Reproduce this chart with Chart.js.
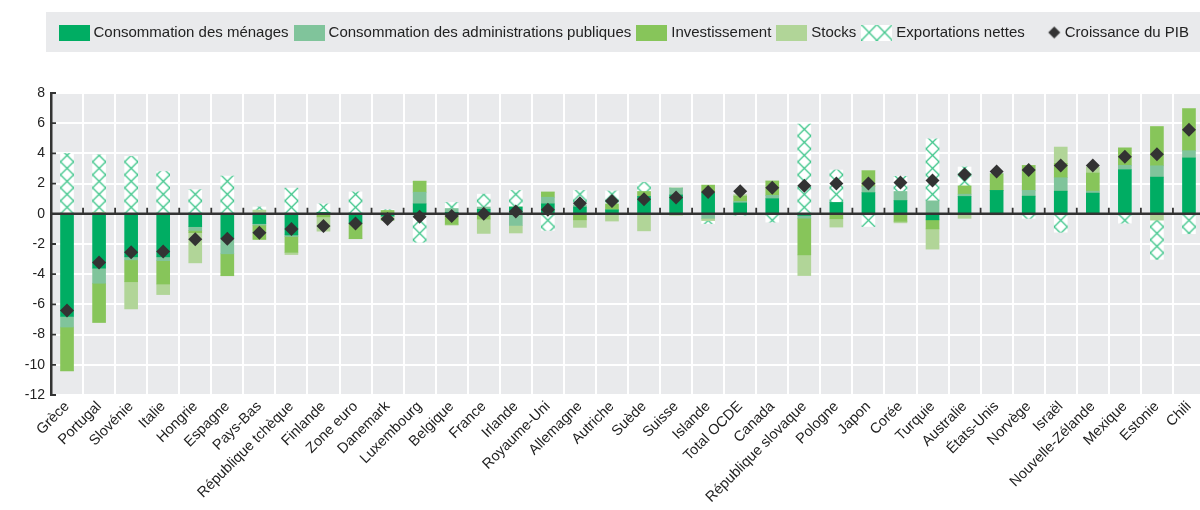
<!DOCTYPE html>
<html lang="fr">
<head>
<meta charset="utf-8">
<title>Contributions à la croissance du PIB</title>
<script src="https://cdn.jsdelivr.net/npm/chart.js@4.4.1/dist/chart.umd.min.js"></script>
<style>
    html, body { margin: 0; padding: 0; background: #fff; overflow: hidden; }
    #wrap { width: 1212px; height: 510px; }
</style>
</head>
<body>
<div id="wrap"><canvas id="myChart" width="1212" height="510"></canvas></div>
<script>
const pays = ['Grèce', 'Portugal', 'Slovénie', 'Italie', 'Hongrie', 'Espagne', 'Pays-Bas', 'République tchèque',
    'Finlande', 'Zone euro', 'Danemark', 'Luxembourg', 'Belgique', 'France', 'Irlande', 'Royaume-Uni',
    'Allemagne', 'Autriche', 'Suède', 'Suisse', 'Islande', 'Total OCDE', 'Canada', 'République slovaque',
    'Pologne', 'Japon', 'Corée', 'Turquie', 'Australie', 'États-Unis', 'Norvège', 'Israël',
    'Nouvelle-Zélande', 'Mexique', 'Estonie', 'Chili'];

const menages = [-6.8, -3.6, -2.85, -2.85, -0.85, -1.6, -0.65, -1.4, 0.1, -0.6, -0.15, 0.66, 0.1, 0.3, 0.45, 0.66,
    0.45, 0.26, 1.15, 1.25, 1.4, 0.72, 1.0, -0.1, 0.75, 1.4, 0.88, -0.4, 1.15, 1.55, 1.17, 1.5, 1.37, 2.92, 2.43, 3.7];
const adminPub = [-0.7, -1.0, -0.2, -0.25, -0.25, -1.05, -0.1, -0.1, 0, -0.05, 0, 0.77, 0.25, 0.15, -0.77, 0.44,
    0.15, 0, 0, 0.45, -0.3, 0.1, 0.22, -0.19, 0, 0.4, 0.6, 0.86, 0.15, 0, 0.38, 0.89, 0.13, 0.29, 0.75, 0.48];
const investissement = [-2.9, -2.6, -1.45, -1.55, -0.15, -1.45, -0.95, -1.05, -0.2, -1.0, 0.22, 0.73, -0.7, -0.35, 0, 0.34,
    -0.4, 0.4, 0.33, 0, 0.5, 0.35, 0.95, -2.43, -0.33, 1.05, -0.5, -0.6, 0.55, 1.1, 1.65, 0.95, 1.2, 1.15, 2.6, 2.78];
const stocks = [0, 0.1, -1.8, -0.7, -2.0, 0, 0.25, -0.15, -0.95, 0, -0.3, 0, -0.05, -0.95, -0.5, 0,
    -0.5, -0.48, -1.13, -0.1, -0.15, 0.1, 0, -1.37, -0.55, 0, -0.1, -1.34, -0.3, -0.05, 0, 1.08, 0.4, 0, -0.42, 0];
const exportations = [4.0, 3.8, 3.8, 2.8, 1.6, 2.5, 0.2, 1.7, 0.55, 1.45, 0.05, -1.88, 0.4, 0.85, 1.1, -1.1,
    0.95, 0.85, 0.6, 0, -0.2, -0.1, -0.55, 5.95, 2.15, -0.84, 1.0, 4.1, 1.25, 0, -0.3, -1.22, 0, -0.62, -2.6, -1.32];
const croissancePib = [-6.4, -3.23, -2.55, -2.5, -1.68, -1.65, -1.25, -1.0, -0.8, -0.65, -0.35, -0.2, -0.15, 0.0, 0.15, 0.27,
    0.7, 0.85, 0.97, 1.08, 1.44, 1.5, 1.72, 1.86, 2.0, 2.0, 2.08, 2.2, 2.6, 2.8, 2.9, 3.2, 3.2, 3.78, 3.95, 5.57];

const yTicks = [-12, -10, -8, -6, -4, -2, 0, 2, 4, 6, 8];

const fontFamily = "'Liberation Sans', Arial, sans-serif";
const hatchGreen = '#3fc68b';

// hatch tile for net exports
const tile = document.createElement('canvas');
tile.width = 13; tile.height = 13;
const tc = tile.getContext('2d');
tc.fillStyle = '#fff';
tc.fillRect(0, 0, 13, 13);
tc.strokeStyle = hatchGreen;
tc.lineWidth = 1.3;
tc.beginPath();
tc.moveTo(0, 0); tc.lineTo(13, 13);
tc.moveTo(13, 0); tc.lineTo(0, 13);
tc.stroke();

function hatch(c) {
    const chart = c.chart;
    const pat = chart.ctx.createPattern(tile, 'repeat');
    if (c.type === 'data' && chart.scales.x) {
        const left = chart.scales.x.getPixelForValue(c.dataIndex) - 6.5;
        const top = chart.scales.y.getPixelForValue(0);
        pat.setTransform(new DOMMatrix([1, 0, 0, 1, left, top]));
    }
    return pat;
}

// legend swatches (31 x 16)
const SW = 31, SH = 16;
function swatch(draw) {
    const cv = document.createElement('canvas');
    cv.width = SW; cv.height = SH;
    draw(cv.getContext('2d'));
    return cv;
}
function solid(color) {
    return swatch(function (g) { g.fillStyle = color; g.fillRect(0, 0, SW, SH); });
}
const swatches = [
    solid('#00ad63'),
    solid('#80c49b'),
    solid('#87c55a'),
    solid('#b1d598'),
    swatch(function (g) {
        g.fillStyle = '#fff';
        g.fillRect(0, 0, SW, SH);
        g.strokeStyle = hatchGreen;
        g.lineWidth = 1.3;
        g.beginPath();
        for (let i = 0; i < 2; i++) {
            const x0 = i * SW / 2;
            g.moveTo(x0, 0); g.lineTo(x0 + SW / 2, SH);
            g.moveTo(x0 + SW / 2, 0); g.lineTo(x0, SH);
        }
        g.stroke();
    }),
    swatch(function (g) {
        g.fillStyle = '#333';
        g.beginPath();
        g.moveTo(24.5, 2); g.lineTo(30.5, 8); g.lineTo(24.5, 14); g.lineTo(18.5, 8);
        g.closePath();
        g.fill();
    })
];

const decor = {
    id: 'decor',
    beforeInit(chart) {
        const fit = chart.legend.fit;
        chart.legend.fit = function () {
            fit.call(this);
            this.height = 81;
        };
    },
    afterLayout(chart) {
        chart.legend.left = 53.5;
        chart.legend.top = 16.5;
    },
    beforeDraw(chart) {
        const ctx = chart.ctx;
        const a = chart.chartArea;
        ctx.save();
        ctx.fillStyle = '#e9eaec';
        ctx.fillRect(46, 12, chart.width - 46, 40);
        ctx.fillRect(a.left, a.top, a.right - a.left, a.bottom - a.top);
        ctx.restore();
    },
    beforeDatasetDraw(chart, args) {
        if (args.meta.type !== 'line') return;
        const ctx = chart.ctx;
        const a = chart.chartArea;
        const y = chart.scales.y;
        const y0 = y.getPixelForValue(0);
        const n = pays.length;
        ctx.save();
        ctx.strokeStyle = '#333';
        ctx.lineWidth = 2.5;
        ctx.beginPath();
        ctx.moveTo(a.left, y0);
        ctx.lineTo(a.right, y0);
        ctx.stroke();
        ctx.lineWidth = 1.8;
        ctx.beginPath();
        for (let i = 1; i < n; i++) {
            const x = a.left + i * (a.right - a.left) / n;
            ctx.moveTo(x, y0);
            ctx.lineTo(x, y0 - 6);
        }
        yTicks.forEach(function (v) {
            const py = y.getPixelForValue(v);
            ctx.moveTo(a.left, py);
            ctx.lineTo(a.left + 5, py);
        });
        ctx.stroke();
        ctx.restore();
    }
};

function barSet(label, data, color) {
    return { type: 'bar', label: label, data: data, backgroundColor: color, barThickness: 13, borderWidth: 0 };
}

const ctx = document.getElementById('myChart');
const myChart = new Chart(ctx, {
    data: {
        labels: pays,
        datasets: [
            barSet('Consommation des ménages', menages, '#00ad63'),
            barSet('Consommation des administrations publiques', adminPub, '#80c49b'),
            barSet('Investissement', investissement, '#87c55a'),
            barSet('Stocks', stocks, '#b1d598'),
            barSet('Exportations nettes', exportations, hatch),
            {
                type: 'line',
                label: 'Croissance du PIB',
                data: croissancePib,
                showLine: false,
                order: -1,
                pointStyle: 'rectRot',
                pointRadius: 7,
                pointBorderWidth: 0,
                pointBackgroundColor: '#333',
                pointBorderColor: '#333'
            }
        ]
    },
    options: {
        responsive: false,
        animation: false,
        devicePixelRatio: 1,
        layout: { padding: { top: 12, right: 1, left: 0, bottom: 0 } },
        plugins: {
            tooltip: { enabled: false },
            legend: {
                position: 'top',
                align: 'start',
                labels: {
                    usePointStyle: true,
                    pointStyleWidth: 24,
                    padding: 8.5,
                    color: '#222',
                    font: { family: fontFamily, size: 15 },
                    sort: (a, b) => a.datasetIndex - b.datasetIndex,
                    generateLabels: function (chart) {
                        return Chart.defaults.plugins.legend.labels.generateLabels(chart).map(function (item) {
                            item.pointStyle = swatches[item.datasetIndex];
                            item.rotation = 0;
                            return item;
                        });
                    }
                }
            }
        },
        scales: {
            x: {
                stacked: true,
                offset: true,
                grid: { color: '#fff', lineWidth: 2, offset: true, drawTicks: false },
                border: { display: false },
                ticks: {
                    autoSkip: false,
                    minRotation: 45,
                    maxRotation: 45,
                    padding: 3,
                    color: '#222',
                    font: { family: fontFamily, size: 14.5 }
                },
                afterFit: function (s) { s.height = 115; s.paddingLeft = 0; s.paddingRight = 0; }
            },
            y: {
                stacked: true,
                min: -12,
                max: 8,
                ticks: { stepSize: 2, padding: 6, color: '#222', font: { family: fontFamily, size: 14 } },
                grid: { color: '#fff', lineWidth: 2, drawTicks: false },
                border: { color: '#333', width: 2.5 },
                afterFit: function (s) { s.width = 51; s.paddingTop = 0; s.paddingBottom = 0; }
            }
        }
    },
    plugins: [decor]
});
</script>
</body>
</html>
